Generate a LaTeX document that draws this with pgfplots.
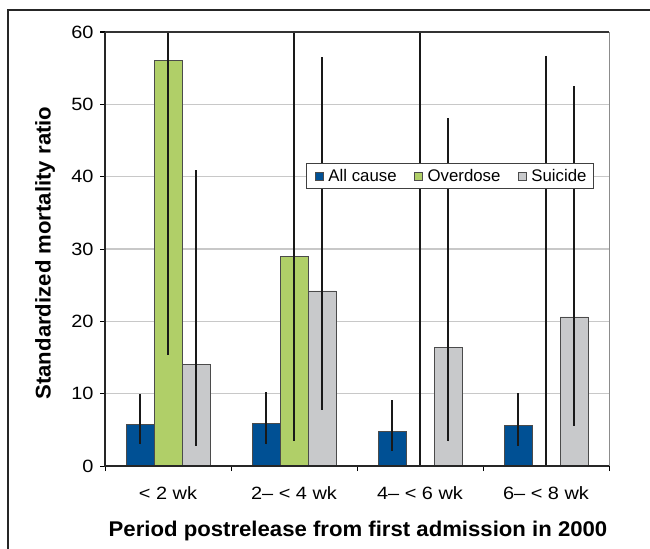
\documentclass[border=0pt]{standalone}
\usepackage{fontspec}
\setmainfont{Liberation Sans}
\newfontfamily\tickfont{Liberation Sans}[FakeStretch=1.12]
\newfontfamily\titlefont{Liberation Sans}[FakeStretch=1.04]
\usepackage{pgfplots}
\pgfplotsset{compat=1.18}
\definecolor{cblue}{RGB}{0,80,148}
\definecolor{cgreen}{RGB}{176,207,104}
\definecolor{cgray}{RGB}{200,201,203}
\definecolor{cgrid}{RGB}{200,200,200}
\definecolor{cedge}{RGB}{75,75,75}
\begin{document}
\begin{tikzpicture}[x=1bp,y=1bp]
\path[use as bounding box] (0,0) rectangle (650,-549);
\draw[line width=1.6bp, black!85] (8,-560) -- (8,-10) -- (660,-10);
\begin{axis}[name=ax,
  at={(105bp,-466bp)}, anchor=south west,
  scale only axis, width=504bp, height=434bp,
  xmin=-0.5, xmax=3.5, ymin=0, ymax=60,
  ybar=0pt, bar width=28bp,
  axis line style={draw=none},
  ytick={0,10,...,60},
  ymajorgrids, grid style={cgrid, line width=1.3bp},
  xtick={0,1,2,3},
  xticklabels={{< 2 wk},{2– < 4 wk},{4– < 6 wk},{6– < 8 wk}},
  minor xtick={-0.5,0.5,1.5,2.5,3.5},
  tick pos=left, tick align=outside,
  major tick length=5bp, minor tick length=5bp,
  major x tick style={draw=none},
  minor x tick style={black, line width=1bp},
  major y tick style={black, line width=1bp},
  /pgf/number format/assume math mode=true,
  tick label style={font=\tickfont\fontsize{17.8bp}{21bp}\selectfont},
  yticklabel style={xshift=-3bp},
  xticklabel style={yshift=-12bp},
  legend style={at={(axis description cs:0.6845,0.668)}, anchor=center,
    legend columns=-1, draw=black!75, line width=0.9bp, fill=white,
    font=\fontsize{16.8bp}{19bp}\selectfont,
    inner xsep=5bp, inner ysep=3.5bp,
    /tikz/every even column/.append style={column sep=12bp}},
  legend image code/.code={\path[draw=none,fill=none] (-4bp,0) -- (11bp,0);\draw[#1, line width=0.8bp, draw=cedge] (0bp,-4bp) rectangle (8bp,4bp);},
  error bars/y dir=both, error bars/y explicit,
  error bars/error mark=none,
  error bars/error bar style={black!90, line width=1.7bp},
]
\addplot[fill=cblue, draw=cedge, line width=0.9bp] coordinates {
  (0,5.7) += (0,4.25) -= (0,2.7)
  (1,5.9) += (0,4.3) -= (0,2.9)
  (2,4.75) += (0,4.35) -= (0,2.65)
  (3,5.6) += (0,4.45) -= (0,2.8)
};
\addplot[fill=cgreen, draw=cedge, line width=0.9bp] coordinates {
  (0,56.1) += (0,44) -= (0,40.75)
  (1,29.0) += (0,71) -= (0,25.5)
  (2,0) += (0,100) -= (0,0)
  (3,0) += (0,56.7) -= (0,0)
};
\addplot[fill=cgray, draw=cedge, line width=0.9bp] coordinates {
  (0,14.0) += (0,26.9) -= (0,11.2)
  (1,24.2) += (0,32.3) -= (0,16.4)
  (2,16.4) += (0,31.7) -= (0,13.0)
  (3,20.6) += (0,31.9) -= (0,15.0)
};
\legend{All cause, Overdose, Suicide}
\end{axis}
\draw[black!85, line width=1.4bp] (ax.north west) -- (ax.south west) -- (ax.south east);
\draw[black!80, line width=1.2bp] (ax.north west) -- (ax.north east);
\draw[black!45, line width=0.9bp] (ax.south east) -- (ax.north east);
\node[font=\titlefont\bfseries\fontsize{21.3bp}{24bp}\selectfont, anchor=center] at (358,-531) {Period postrelease from first admission in 2000};
\node[font=\titlefont\bfseries\fontsize{21.3bp}{24bp}\selectfont, anchor=center, rotate=90] at (45,-253) {Standardized mortality ratio};
\end{tikzpicture}
\end{document}
